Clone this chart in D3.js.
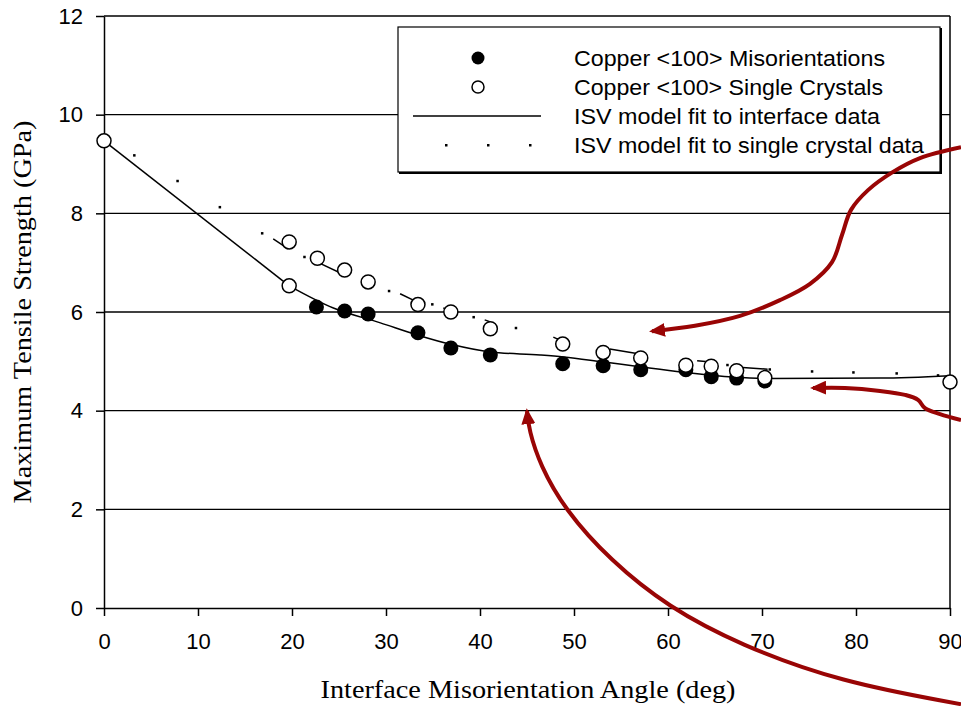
<!DOCTYPE html>
<html>
<head>
	<title>Tensile strength vs misorientation</title>
	<script src="https://d3js.org/d3.v7.min.js" charset="utf-8"></script>
	<style>
		body { margin: 0; background: #fff; }
		svg { display: block; }
	</style>
</head>
<body>
	<svg width="961" height="706"></svg>
	<script>
		// measured points, Copper <100> misorientations (filled)
		var misAngle = [22.6, 25.6, 28.1, 33.4, 36.9, 41.1, 48.8, 53.1, 57.1, 61.9, 64.6, 67.3, 70.3];
		var misStrength = [6.10, 6.02, 5.96, 5.58, 5.27, 5.13, 4.95, 4.91, 4.83, 4.83, 4.69, 4.66, 4.60];

		// single crystals (open)
		var scAngle = [0, 19.7, 19.7, 22.7, 25.6, 28.1, 33.4, 36.9, 41.1, 48.8, 53.1, 57.1, 61.9, 64.6, 67.3, 70.3, 90];
		var scStrength = [9.47, 6.53, 7.42, 7.09, 6.85, 6.61, 6.15, 6.00, 5.66, 5.35, 5.18, 5.07, 4.92, 4.90, 4.81, 4.67, 4.58];

		// ISV fit to interface data (solid)
		var fitAngle = [0, 19.7, 24.4, 29.4, 33.4, 37.0, 41.1, 46.4, 48.9, 53.0, 57.0, 61.6, 66.9, 70.9, 82.6, 90];
		var fitStrength = [9.47, 6.53, 6.08, 5.78, 5.53, 5.34, 5.19, 5.13, 5.09, 4.99, 4.89, 4.78, 4.68, 4.65, 4.66, 4.71];

		// ISV fit to single crystal data (dotted)
		var scFitAngle = [3.2, 7.8, 12.3, 16.8, 21.3, 25.8, 30.3, 34.9, 39.3, 43.8, 48.3, 52.8, 57.3, 61.8, 66.3, 70.8, 75.3, 79.7, 84.3, 88.7];
		var scFitStrength = [9.18, 8.66, 8.13, 7.60, 7.12, 6.85, 6.43, 6.16, 5.90, 5.68, 5.45, 5.25, 5.10, 4.98, 4.93, 4.84, 4.80, 4.78, 4.76, 4.72];
		// short solid pieces of that fit near the open circles: [x1, y1, x2, y2]
		var scFitPieces = [
			[18.0, 7.48, 19.6, 7.28], [22.7, 7.01, 25.6, 6.75], [27.5, 6.67, 28.1, 6.60],
			[31.5, 6.37, 32.9, 6.24], [36.1, 6.08, 36.8, 6.04], [40.5, 5.84, 41.1, 5.80],
			[47.8, 5.49, 48.5, 5.43], [53.8, 5.25, 57.0, 5.15], [63.1, 5.01, 64.3, 4.99],
			[66.8, 4.89, 70.6, 4.84]
		];

		var xTicks = [0, 10, 20, 30, 40, 50, 60, 70, 80, 90];
		var yTicks = [0, 2, 4, 6, 8, 10, 12];

		var legendLabels = [
			"Copper <100> Misorientations",
			"Copper <100> Single Crystals",
			"ISV model fit to interface data",
			"ISV model fit to single crystal data"
		];
		var legendWidths = [311, 309, 306, 350];

		// annotation arrows, in data units
		var arrow1 = [[91.17, 9.34], [86.81, 9.12], [83.94, 8.84], [81.28, 8.47], [79.47, 8.07], [78.51, 7.56], [77.45, 7.01], [75.11, 6.57], [71.91, 6.24], [67.66, 5.92], [62.87, 5.72], [58.30, 5.61]];
		var arrow2 = [[91.17, 3.81], [88.94, 3.93], [87.34, 4.05], [86.60, 4.22], [85.21, 4.32], [82.55, 4.40], [78.83, 4.46], [75.43, 4.46]];
		var arrow3 = [[91.17, -1.95], [78.30, -1.50], [67.66, -0.75], [60.00, 0.02], [53.83, 0.97], [49.04, 1.99], [46.38, 2.90], [45.21, 3.61], [45.00, 3.99]];

		var sans = "'Liberation Sans', Arial, sans-serif";
		var serif = "'Liberation Serif', 'Times New Roman', serif";
		var arrowColor = "#990505";

		var svg = d3.select('svg');
		svg.append('rect').attr('width', 961).attr('height', 706).attr('fill', '#fff');

		const x = d3.scaleLinear().domain([0, 90]).range([104, 950]);
		const y = d3.scaleLinear().domain([0, 12]).range([608, 16]);

		// gridlines
		svg.append('g').selectAll('line')
			.data(yTicks.filter(d => d > 0))
			.enter().append('line')
			.attr('x1', x(0)).attr('x2', x(90))
			.attr('y1', d => y(d)).attr('y2', d => y(d))
			.attr('stroke', '#000').attr('stroke-width', 1.3);

		// right border
		svg.append('line')
			.attr('x1', x(90)).attr('x2', x(90))
			.attr('y1', y(0)).attr('y2', y(12))
			.attr('stroke', '#000').attr('stroke-width', 1.5);

		const xAxis = svg.append('g')
			.attr('transform', `translate(0, ${y(0)})`)
			.call(d3.axisBottom(x).tickValues(xTicks).tickSize(8).tickSizeOuter(0).tickPadding(17));
		const yAxis = svg.append('g')
			.attr('transform', `translate(${x(0)}, 0)`)
			.call(d3.axisLeft(y).tickValues(yTicks).tickSize(8).tickSizeOuter(0).tickPadding(13));

		[xAxis, yAxis].forEach(function(a) {
			a.select('.domain').attr('stroke', '#000').attr('stroke-width', 1.5);
			a.selectAll('.tick line').attr('stroke', '#000').attr('stroke-width', 1.5);
			a.selectAll('.tick text').attr('fill', '#000').style('font-family', sans).style('font-size', '22px');
		});

		// interface fit: straight first leg, smooth after
		const lineLin = d3.line().x(d => x(d[0])).y(d => y(d[1]));
		const lineSmooth = d3.line().x(d => x(d[0])).y(d => y(d[1])).curve(d3.curveMonotoneX);
		var fitPts = fitAngle.map((a, i) => [a, fitStrength[i]]);
		svg.append('path').attr('d', lineLin(fitPts.slice(0, 2)))
			.attr('fill', 'none').attr('stroke', '#000').attr('stroke-width', 1.5);
		svg.append('path').attr('d', lineSmooth(fitPts.slice(1)))
			.attr('fill', 'none').attr('stroke', '#000').attr('stroke-width', 1.5);

		// single crystal fit: dots + short pieces
		svg.append('g').selectAll('rect')
			.data(scFitAngle)
			.enter().append('rect')
			.attr('x', d => x(d) - 1)
			.attr('y', (d, i) => y(scFitStrength[i]) - 1)
			.attr('width', 2.5).attr('height', 2.5)
			.attr('fill', '#000');
		svg.append('g').selectAll('line')
			.data(scFitPieces)
			.enter().append('line')
			.attr('x1', d => x(d[0])).attr('y1', d => y(d[1]))
			.attr('x2', d => x(d[2])).attr('y2', d => y(d[3]))
			.attr('stroke', '#000').attr('stroke-width', 1.5);

		// filled points
		svg.append('g').selectAll('circle')
			.data(misAngle)
			.enter().append('circle')
			.attr('cx', d => x(d))
			.attr('cy', (d, i) => y(misStrength[i]))
			.attr('r', 7.5)
			.attr('fill', '#000');

		// open points
		svg.append('g').selectAll('circle')
			.data(scAngle)
			.enter().append('circle')
			.attr('cx', d => x(d))
			.attr('cy', (d, i) => y(scStrength[i]))
			.attr('r', 7)
			.attr('fill', '#fff')
			.attr('stroke', '#000')
			.attr('stroke-width', 1.5);

		// legend
		const legend = svg.append('g');
		legend.append('rect').attr('x', 399).attr('y', 28).attr('width', 543).attr('height', 146)
			.attr('fill', '#000');
		legend.append('rect').attr('x', 398).attr('y', 27).attr('width', 542).attr('height', 145)
			.attr('fill', '#fff').attr('stroke', '#000').attr('stroke-width', 1.2);
		var rowY = [58, 87, 116, 145];
		legend.append('circle').attr('cx', 478).attr('cy', rowY[0]).attr('r', 6.5).attr('fill', '#000');
		legend.append('circle').attr('cx', 478).attr('cy', rowY[1]).attr('r', 6)
			.attr('fill', '#fff').attr('stroke', '#000').attr('stroke-width', 1.5);
		legend.append('line').attr('x1', 413).attr('x2', 541).attr('y1', rowY[2]).attr('y2', rowY[2])
			.attr('stroke', '#000').attr('stroke-width', 1.5);
		legend.selectAll('rect.dot')
			.data([446, 488, 530])
			.enter().append('rect')
			.attr('class', 'dot')
			.attr('x', d => d - 1).attr('y', rowY[3] - 1)
			.attr('width', 2.5).attr('height', 2.5).attr('fill', '#000');
		legend.selectAll('text')
			.data(legendLabels)
			.enter().append('text')
			.attr('x', 574)
			.attr('y', (d, i) => rowY[i] + 8)
			.attr('textLength', (d, i) => legendWidths[i])
			.attr('lengthAdjust', 'spacingAndGlyphs')
			.style('font-family', sans).style('font-size', '22px')
			.text(d => d);

		// axis titles
		svg.append('text')
			.attr('x', 528).attr('y', 698)
			.attr('text-anchor', 'middle')
			.attr('textLength', 415).attr('lengthAdjust', 'spacingAndGlyphs')
			.style('font-family', serif).style('font-size', '26px')
			.text('Interface Misorientation Angle (deg)');
		svg.append('text')
			.attr('transform', 'translate(31, 312) rotate(-90)')
			.attr('text-anchor', 'middle')
			.attr('textLength', 383).attr('lengthAdjust', 'spacingAndGlyphs')
			.style('font-family', serif).style('font-size', '26px')
			.text('Maximum Tensile Strength (GPa)');

		// arrows
		svg.append('defs').append('marker')
			.attr('id', 'head')
			.attr('viewBox', '0 0 16 14')
			.attr('refX', 13).attr('refY', 7)
			.attr('markerWidth', 16).attr('markerHeight', 14)
			.attr('markerUnits', 'userSpaceOnUse')
			.attr('orient', 'auto')
			.append('path').attr('d', 'M0,0 L16,7 L0,14 Z').attr('fill', arrowColor);

		const arrowLine = d3.line().x(d => x(d[0])).y(d => y(d[1])).curve(d3.curveCatmullRom.alpha(0.5));
		const arrowArc = d3.line().x(d => x(d[0])).y(d => y(d[1])).curve(d3.curveBasis);
		[[arrow1, arrowLine], [arrow2, arrowLine], [arrow3, arrowArc]].forEach(function(a) {
			svg.append('path')
				.attr('d', a[1](a[0]))
				.attr('fill', 'none')
				.attr('stroke', arrowColor)
				.attr('stroke-width', 4)
				.attr('marker-end', 'url(#head)');
		});
	</script>
</body>
</html>
